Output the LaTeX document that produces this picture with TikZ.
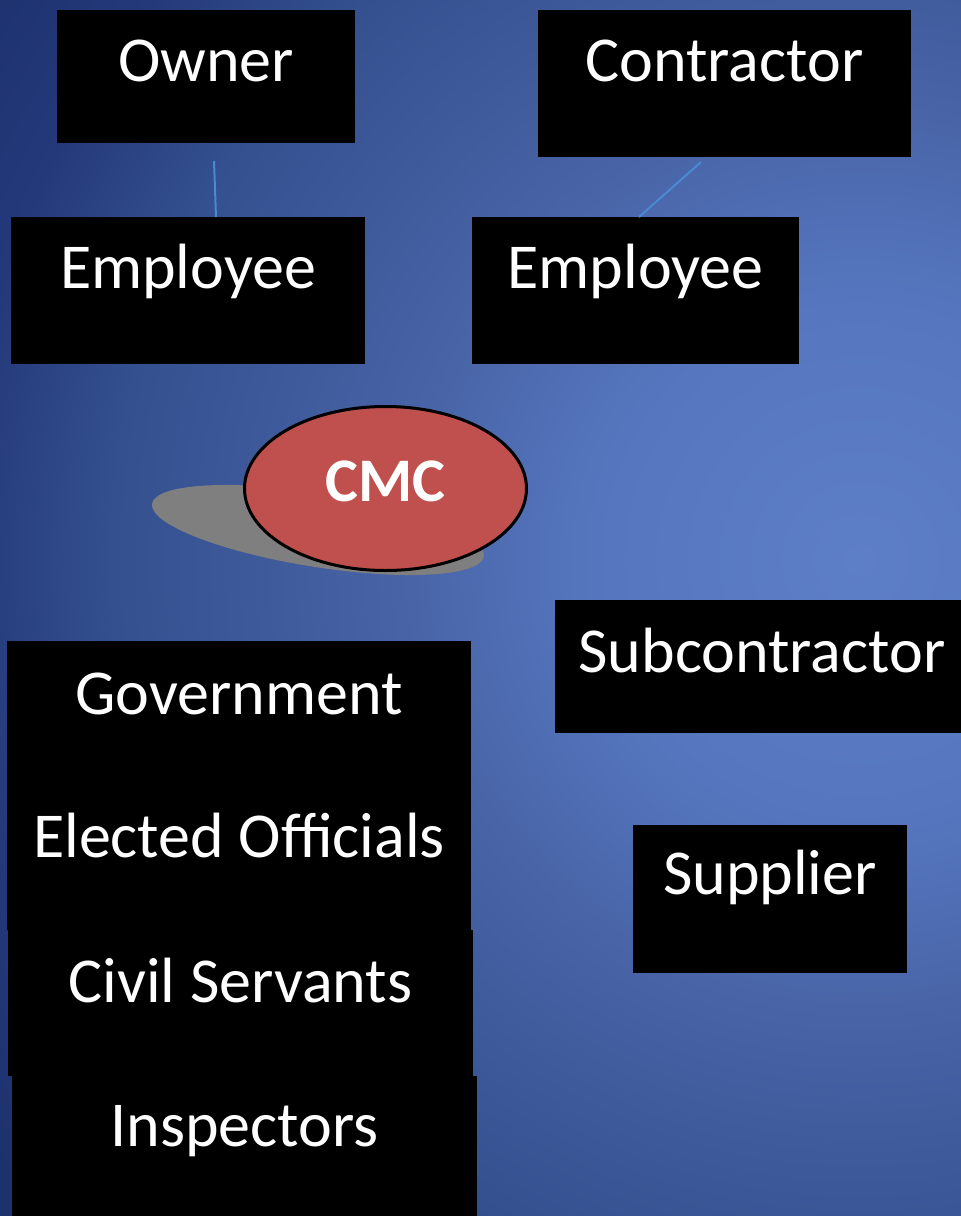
\documentclass[tikz,border=0pt]{standalone}
\usepackage{fontspec}
\setmainfont{Carlito}
\usetikzlibrary{shapes.geometric}
\definecolor{bgA}{HTML}{5D7FC8}
\definecolor{bgB}{HTML}{5677C0}
\definecolor{bgC}{HTML}{4965A8}
\definecolor{bgD}{HTML}{3E5A9A}
\definecolor{bgE}{HTML}{34508F}
\definecolor{bgF}{HTML}{24397A}
\definecolor{bgG}{HTML}{1D316E}
\definecolor{cmcred}{HTML}{C0504D}
\definecolor{shadowgray}{HTML}{7F7F7F}
\definecolor{connblue}{HTML}{4A8AD0}
\pgfdeclareradialshading{bgshade}{\pgfpointorigin}{color(0bp)=(bgA); color(5.7bp)=(bgB); color(10.2bp)=(bgC); color(13.6bp)=(bgD); color(17bp)=(bgE); color(20.5bp)=(bgF); color(23.9bp)=(bgG); color(50bp)=(bgG)}
\tikzset{
  box/.style={fill=black, text=white, inner sep=0pt, outer sep=0pt, anchor=north west,
    font=\fontsize{64}{76}\selectfont},
  conn/.style={draw=connblue, line width=2pt},
  cmcnode/.style={ellipse, draw=black, line width=3pt, fill=cmcred, text=white, inner sep=0pt,
    font=\fontsize{62}{74}\selectfont\bfseries}
}
\begin{document}
\begin{tikzpicture}[x=1pt, y=-1pt]
\useasboundingbox (0,0) rectangle (961,1216);
\begin{scope}
  \clip (0,0) rectangle (961,1216);
  \shade[shading=bgshade] (860,560) circle [radius=1100pt];
\end{scope}
% boxes
\node[box, minimum width=298pt, text height=71.5pt, text depth=62pt] (owner) at (57,9.5) {Owner};
\node[box, minimum width=373pt, text height=71.5pt, text depth=76pt] (contractor) at (538,9.5) {Contractor};
\node[box, minimum width=354pt, text height=71pt, text depth=76pt] (emp1) at (11,217) {Employee};
\node[box, minimum width=327pt, text height=71pt, text depth=76pt] (emp2) at (472,217) {Employee};
% connectors
\coordinate (ownerTail) at (214,161);
\coordinate (contrTail) at (701,162);
\draw[conn] (ownerTail) -- ([xshift=205pt]emp1.north west);
\draw[conn] (contrTail) -- ([xshift=167pt]emp2.north west);
% CMC with shadow
\fill[shadowgray, rotate around={-9:(318,530)}] (318,530) ellipse [x radius=168pt, y radius=37pt];
\node[cmcnode, minimum width=282pt, minimum height=164pt, text height=40pt, text depth=15pt] (cmc) at (385.5,488.5) {CMC};
% right side
\node[box, minimum width=414pt, text height=72pt, text depth=61pt] (sub) at (555,600) {Subcontractor};
\node[box, minimum width=274pt, text height=69pt, text depth=79pt] (supplier) at (633,825) {Supplier};
% left column
\node[box, minimum width=464pt, text height=73pt, text depth=75pt] (gov) at (7,641) {Government};
\node[box, minimum width=464pt, text height=68pt, text depth=73pt] (elected) at (7,789) {Elected Officials};
\node[box, minimum width=465pt, text height=72pt, text depth=74pt] (civil) at (8,930) {Civil Servants};
\node[box, minimum width=465pt, text height=70pt, text depth=75pt] (insp) at (12,1076) {Inspectors};
\end{tikzpicture}
\end{document}
